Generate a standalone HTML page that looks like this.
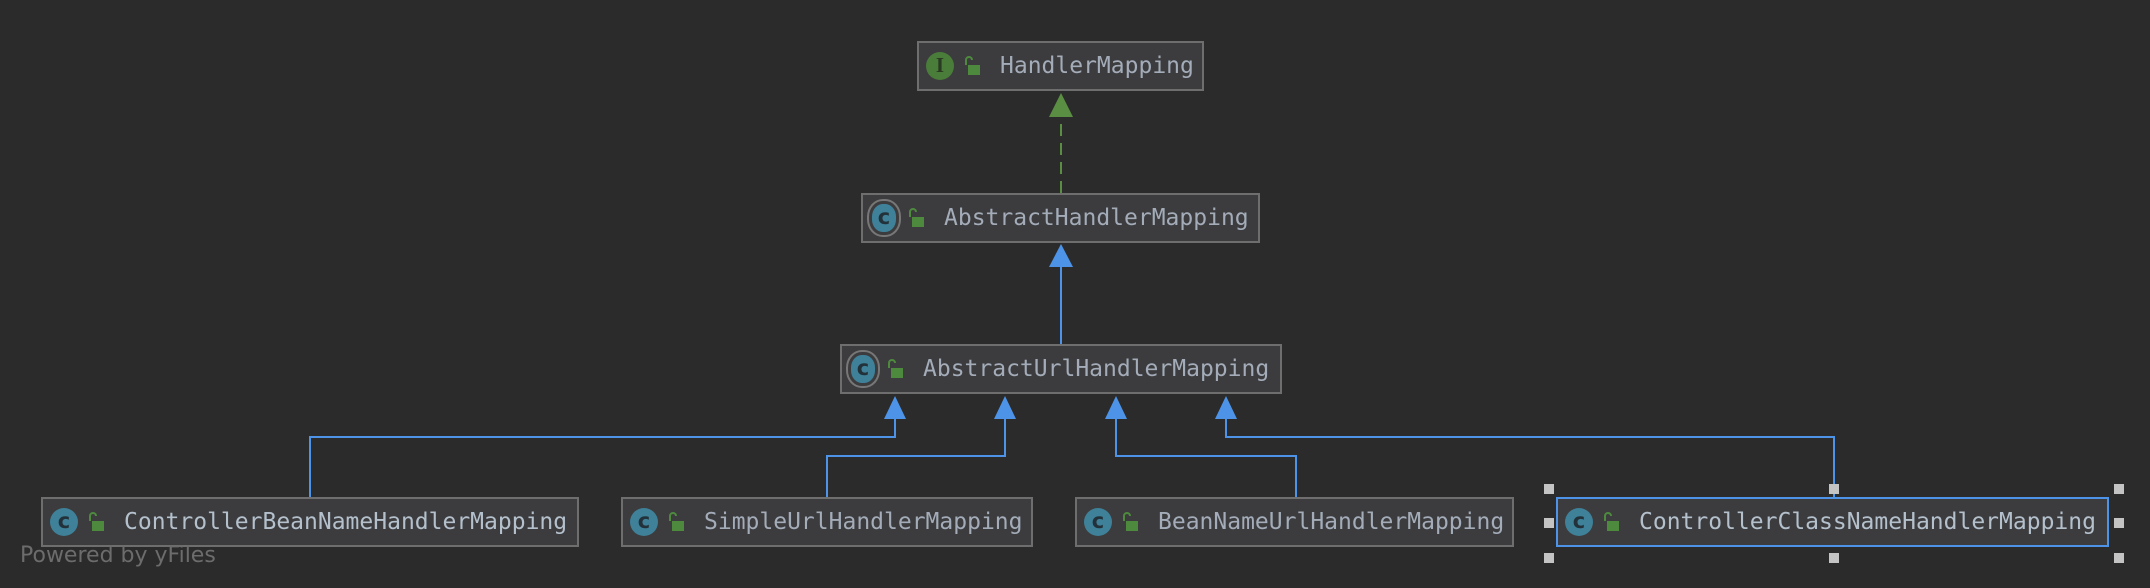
<!DOCTYPE html>
<html><head><meta charset="utf-8"><style>
body{margin:0;width:2150px;height:588px;background:#2b2b2b;position:relative;overflow:hidden;font-family:"DejaVu Sans Mono","Liberation Mono",monospace;}
.b{position:absolute;height:46px;background:#3c3c3e;border:2px solid #6e6e6e;box-sizing:content-box;}
.b.sel{border-color:#4d94e8;}
.ic{position:absolute;left:7px;top:9px;width:28px;height:28px;border-radius:50%;background:#3e8199;color:#23323a;font:bold 21px "DejaVu Sans",sans-serif;text-align:center;line-height:27px;}
.ic.i{background:#4a7c3a;color:#2a3a22;font-family:"Liberation Serif",serif;}
.ic.a{box-shadow:0 0 0 3px #3c3c3e,0 0 0 5px #777;width:24px;left:9px;border-radius:45%;}
.lk{position:absolute;left:45px;top:13px;width:16px;height:20px;}
.t{position:absolute;left:81px;top:0;line-height:46px;font-size:23px;color:#a3acb8;white-space:nowrap;}
.h{position:absolute;width:10px;height:10px;background:#c4c4c4;}
</style></head><body>
<svg width="2150" height="588" style="position:absolute;left:0;top:0">
<g fill="none" stroke="#4d94e8" stroke-width="2">
<line x1="1061" y1="344" x2="1061" y2="266"/>
<polyline points="310,497 310,437 895,437 895,416"/>
<polyline points="827,497 827,456 1005,456 1005,416"/>
<polyline points="1296,497 1296,456 1116,456 1116,416"/>
<polyline points="1834,497 1834,437 1226,437 1226,416"/>
</g>
<line x1="1061" y1="193" x2="1061" y2="116" stroke="#5a8f43" stroke-width="2" stroke-dasharray="12,7"/>
<polygon points="1061,93 1049,117 1073,117" fill="#5a8f43"/>
<g fill="#4d94e8">
<polygon points="1061,244 1049,267 1073,267"/>
<polygon points="895,396 884,419 906,419"/>
<polygon points="1005,396 994,419 1016,419"/>
<polygon points="1116,396 1105,419 1127,419"/>
<polygon points="1226,396 1215,419 1237,419"/>
</g>
</svg>

<div class="b" style="left:917px;top:41px;width:283px"><div class="ic i">I</div><svg class="lk" viewBox="0 0 16 20"><path d="M2 9V4a3 3 0 0 1 6 0" fill="none" stroke="#4e8a3e" stroke-width="2"/><rect x="4" y="9" width="12" height="10" fill="#4e8a3e"/></svg><div class="t">HandlerMapping</div></div>

<div class="b" style="left:861px;top:193px;width:395px"><div class="ic a">c</div><svg class="lk" viewBox="0 0 16 20"><path d="M2 9V4a3 3 0 0 1 6 0" fill="none" stroke="#4e8a3e" stroke-width="2"/><rect x="4" y="9" width="12" height="10" fill="#4e8a3e"/></svg><div class="t">AbstractHandlerMapping</div></div>

<div class="b" style="left:840px;top:344px;width:438px"><div class="ic a">c</div><svg class="lk" viewBox="0 0 16 20"><path d="M2 9V4a3 3 0 0 1 6 0" fill="none" stroke="#4e8a3e" stroke-width="2"/><rect x="4" y="9" width="12" height="10" fill="#4e8a3e"/></svg><div class="t">AbstractUrlHandlerMapping</div></div>

<div class="b" style="left:41px;top:497px;width:534px"><div class="ic">c</div><svg class="lk" viewBox="0 0 16 20"><path d="M2 9V4a3 3 0 0 1 6 0" fill="none" stroke="#4e8a3e" stroke-width="2"/><rect x="4" y="9" width="12" height="10" fill="#4e8a3e"/></svg><div class="t" style="color:#b4c0cc">ControllerBeanNameHandlerMapping</div></div>

<div class="b" style="left:621px;top:497px;width:408px"><div class="ic">c</div><svg class="lk" viewBox="0 0 16 20"><path d="M2 9V4a3 3 0 0 1 6 0" fill="none" stroke="#4e8a3e" stroke-width="2"/><rect x="4" y="9" width="12" height="10" fill="#4e8a3e"/></svg><div class="t">SimpleUrlHandlerMapping</div></div>

<div class="b" style="left:1075px;top:497px;width:435px"><div class="ic">c</div><svg class="lk" viewBox="0 0 16 20"><path d="M2 9V4a3 3 0 0 1 6 0" fill="none" stroke="#4e8a3e" stroke-width="2"/><rect x="4" y="9" width="12" height="10" fill="#4e8a3e"/></svg><div class="t">BeanNameUrlHandlerMapping</div></div>

<div class="b sel" style="left:1556px;top:497px;width:549px"><div class="ic">c</div><svg class="lk" viewBox="0 0 16 20"><path d="M2 9V4a3 3 0 0 1 6 0" fill="none" stroke="#4e8a3e" stroke-width="2"/><rect x="4" y="9" width="12" height="10" fill="#4e8a3e"/></svg><div class="t" style="color:#b4c0cc">ControllerClassNameHandlerMapping</div></div>

<div class="h" style="left:1544px;top:484px"></div>
<div class="h" style="left:1829px;top:484px"></div>
<div class="h" style="left:2114px;top:484px"></div>
<div class="h" style="left:1544px;top:518px"></div>
<div class="h" style="left:2114px;top:518px"></div>
<div class="h" style="left:1544px;top:553px"></div>
<div class="h" style="left:1829px;top:553px"></div>
<div class="h" style="left:2114px;top:553px"></div>

<div style="position:absolute;left:20px;top:543px;font:22px 'DejaVu Sans','Liberation Sans',sans-serif;color:#6c6c6c;">Powered by yFiles</div>
</body></html>
